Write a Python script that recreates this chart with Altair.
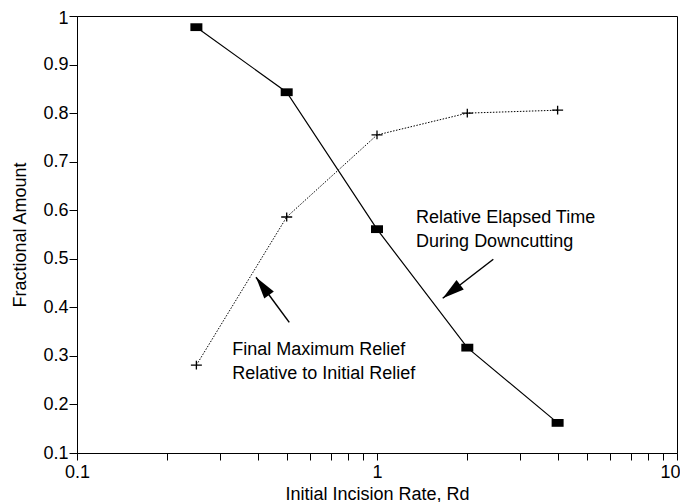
import altair as alt
import pandas as pd

# Data
rates = [0.25, 0.5, 1, 2, 4]
elapsed_time = [0.977, 0.843, 0.561, 0.317, 0.162]
final_relief = [0.281, 0.586, 0.755, 0.800, 0.806]

x_ticks = [0.1, 0.2, 0.3, 0.4, 0.5, 0.6, 0.7, 0.8, 0.9,
           1, 2, 3, 4, 5, 6, 7, 8, 9, 10]
y_ticks = [0.1, 0.2, 0.3, 0.4, 0.5, 0.6, 0.7, 0.8, 0.9, 1.0]

ann_text = ["Relative Elapsed Time", "During Downcutting",
            "Final Maximum Relief", "Relative to Initial Relief"]
ann_x = [1.35, 1.35, 0.329, 0.329]
ann_y = [0.584, 0.535, 0.312, 0.263]

arrow_x = [2.442, 0.510]
arrow_y = [0.499, 0.369]
arrow_x2 = [1.656, 0.395]
arrow_y2 = [0.4187, 0.4619]
arrow_angle = [232.4, 323.5]

FONT = "Liberation Sans"

df_time = pd.DataFrame({"x": rates, "y": elapsed_time})
df_relief = pd.DataFrame({"x": rates, "y": final_relief})
df_ann = pd.DataFrame({"x": ann_x, "y": ann_y, "t": ann_text})
df_arrow = pd.DataFrame({"x": arrow_x, "y": arrow_y, "x2": arrow_x2,
                         "y2": arrow_y2, "a": arrow_angle})

xscale = alt.Scale(type="log", domain=[0.1, 10], nice=False)
yscale = alt.Scale(domain=[0.1, 1.0], nice=False, zero=False)

xaxis = alt.Axis(
    values=x_ticks,
    labelExpr="(datum.value == 0.1 || datum.value == 1 || datum.value == 10) ? format(datum.value, '~g') : ''",
    labelOverlap=False, labelFlush=False, grid=False,
    labelAlign={"condition": {"test": "datum.value == 10", "value": "right"}, "value": "center"},
    labelOffset={"condition": {"test": "datum.value == 10", "value": 3}, "value": 0},
    tickSize=7, labelPadding=3,
    title="Initial Incision Rate, Rd",
    titleY=46, titleBaseline="alphabetic",
)
yaxis = alt.Axis(
    values=y_ticks, format="~g", labelFlush=False, labelOverlap=False,
    labelOffset={"condition": {"test": "datum.value == 1", "value": 2}, "value": 0},
    grid=False, tickSize=8, labelPadding=1,
    title="Fractional Amount",
    titleX=-52, titleY=218.5, titleBaseline="alphabetic", titleAngle=270,
)

X = alt.X("x:Q", scale=xscale, axis=xaxis)
Y = alt.Y("y:Q", scale=yscale, axis=yaxis)
Xn = alt.X("x:Q", scale=xscale)
Yn = alt.Y("y:Q", scale=yscale)

line_time = alt.Chart(df_time).mark_line(color="black", strokeWidth=1.2).encode(x=X, y=Y)
pts_time = alt.Chart(df_time).mark_point(
    shape="M-1,-0.65L1,-0.65L1,0.65L-1,0.65Z", size=144,
    filled=True, color="black", opacity=1, strokeWidth=0
).encode(x=Xn, y=Yn)

line_relief = alt.Chart(df_relief).mark_line(
    color="black", strokeWidth=1, strokeDash=[1.5, 1.5]
).encode(x=Xn, y=Yn)
pts_relief = alt.Chart(df_relief).mark_point(
    shape="M-1,0L1,0M0,-0.8L0,0.8", size=121,
    filled=False, color="black", opacity=1, strokeWidth=1.3
).encode(x=Xn, y=Yn)

texts = alt.Chart(df_ann).mark_text(
    align="left", baseline="middle", font=FONT, fontSize=18, color="black"
).encode(x=Xn, y=Yn, text="t:N")

shafts = alt.Chart(df_arrow).mark_rule(color="black", strokeWidth=1.5).encode(
    x=Xn, y=Yn, x2="x2:Q", y2="y2:Q"
)
heads = alt.Chart(df_arrow).mark_point(
    shape="M0,0L0.27,1L-0.27,1Z", size=1936, filled=True,
    color="black", opacity=1, strokeWidth=0
).encode(
    x=alt.X("x2:Q", scale=xscale), y=alt.Y("y2:Q", scale=yscale),
    angle=alt.Angle("a:Q", scale=None)
)

chart = alt.layer(
    line_time, line_relief, shafts, heads, pts_time, pts_relief, texts
).properties(
    width=600, height=437,
    autosize=alt.AutoSizeParams(type="none"),
    padding={"left": 69, "top": 8, "right": 3, "bottom": 50},
    background="white",
).configure_view(
    stroke="black", strokeWidth=1
).configure_axis(
    domainColor="black", domainWidth=1, tickColor="black", tickWidth=1,
    labelColor="black", titleColor="black",
    labelFont=FONT, titleFont=FONT, labelFontSize=18, titleFontSize=18,
    titleFontWeight="normal",
)

chart.save("out.html", embed_options={"renderer": "svg", "actions": False})
